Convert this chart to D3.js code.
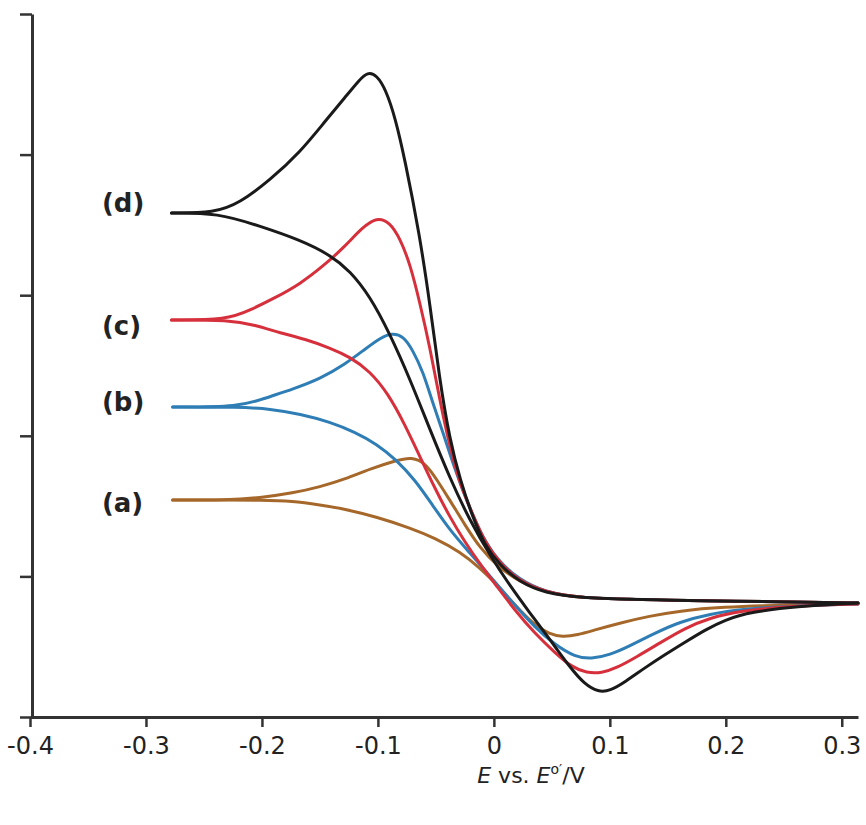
<!DOCTYPE html>
<html>
<head>
<meta charset="utf-8">
<script src="https://cdn.jsdelivr.net/npm/d3@7"></script>
<style>
body { margin: 0; background: #fff; }
</style>
</head>
<body>
<div id="chart"></div>
<script>
// axis ticks: potential (V) and current (arbitrary units, no labels)
var xTicks = [-0.4, -0.3, -0.2, -0.1, 0, 0.1, 0.2, 0.3];
var yTicks = [0, 1, 2, 3, 4, 5];

var curveNames = ["(a)", "(b)", "(c)", "(d)"];
var curveColors = ["#a5682a", "#2f7db5", "#d6303c", "#1a1a1a"];
var labelE = -0.338;
var labelI = [1.51, 2.23, 2.77, 3.645];

// each voltammogram = peak branch + return branch, points are [E, I]
var aPeak = [[-0.277,1.543],[-0.230,1.543],[-0.202,1.558],[-0.173,1.593],[-0.150,1.636],[-0.128,1.693],[-0.107,1.764],
  [-0.083,1.828],[-0.071,1.849],[-0.059,1.807],[-0.049,1.686],[-0.038,1.543],[-0.025,1.366],[-0.012,1.202],[0.003,1.074],
  [0.021,0.967],[0.044,0.889],[0.074,0.846],[0.134,0.832],[0.314,0.811]];
var aReturn = [[-0.277,1.543],[-0.230,1.543],[-0.202,1.543],[-0.173,1.536],[-0.150,1.508],[-0.128,1.479],[-0.101,1.422],
  [-0.072,1.344],[-0.051,1.273],[-0.029,1.174],[-0.012,1.060],[0.003,0.939],[0.018,0.797],[0.035,0.654],[0.048,0.590],
  [0.059,0.569],[0.072,0.583],[0.087,0.619],[0.109,0.669],[0.134,0.718],[0.160,0.754],[0.195,0.782],[0.255,0.797],[0.314,0.804]];

var bPeak = [[-0.277,2.205],[-0.219,2.205],[-0.197,2.269],[-0.173,2.333],[-0.150,2.404],[-0.128,2.511],[-0.111,2.617],
  [-0.098,2.696],[-0.088,2.731],[-0.078,2.710],[-0.070,2.610],[-0.061,2.454],[-0.053,2.240],[-0.044,2.027],[-0.034,1.771],
  [-0.022,1.508],[-0.010,1.280],[0.003,1.117],[0.021,0.982],[0.044,0.889],[0.074,0.846],[0.134,0.832],[0.314,0.811]];
var bReturn = [[-0.277,2.205],[-0.219,2.205],[-0.193,2.191],[-0.167,2.155],[-0.141,2.098],[-0.120,2.027],[-0.101,1.942],
  [-0.084,1.828],[-0.068,1.686],[-0.053,1.508],[-0.038,1.330],[-0.023,1.188],[-0.010,1.067],[0.003,0.939],[0.018,0.797],
  [0.035,0.640],[0.053,0.512],[0.070,0.427],[0.084,0.413],[0.100,0.441],[0.117,0.505],[0.139,0.597],[0.160,0.676],
  [0.186,0.733],[0.216,0.768],[0.255,0.789],[0.314,0.804]];

var cPeak = [[-0.278,2.824],[-0.230,2.824],[-0.210,2.895],[-0.189,2.980],[-0.167,3.080],[-0.146,3.215],[-0.128,3.350],
  [-0.114,3.478],[-0.101,3.556],[-0.090,3.521],[-0.081,3.407],[-0.072,3.215],[-0.064,2.952],[-0.055,2.624],[-0.047,2.269],
  [-0.038,1.920],[-0.029,1.650],[-0.019,1.458],[-0.008,1.245],[0.005,1.095],[0.022,0.967],[0.044,0.889],[0.074,0.846],
  [0.134,0.832],[0.314,0.811]];
var cReturn = [[-0.278,2.824],[-0.228,2.824],[-0.206,2.788],[-0.184,2.731],[-0.163,2.688],[-0.141,2.624],[-0.124,2.560],
  [-0.107,2.461],[-0.091,2.297],[-0.077,2.084],[-0.064,1.856],[-0.051,1.629],[-0.038,1.422],[-0.025,1.245],[-0.012,1.088],
  [0.003,0.925],[0.018,0.761],[0.035,0.597],[0.053,0.455],[0.067,0.356],[0.080,0.313],[0.093,0.313],[0.106,0.349],
  [0.123,0.427],[0.143,0.526],[0.165,0.633],[0.186,0.704],[0.212,0.754],[0.255,0.789],[0.314,0.804]];

var dPeak = [[-0.278,3.585],[-0.241,3.585],[-0.219,3.656],[-0.193,3.819],[-0.167,4.018],[-0.146,4.232],[-0.128,4.410],
  [-0.116,4.531],[-0.109,4.587],[-0.101,4.566],[-0.093,4.459],[-0.085,4.260],[-0.077,3.976],[-0.064,3.428],[-0.055,2.930],
  [-0.047,2.411],[-0.038,1.970],[-0.029,1.686],[-0.019,1.437],[-0.008,1.223],[0.005,1.081],[0.022,0.960],[0.044,0.882],
  [0.074,0.846],[0.134,0.832],[0.314,0.811]];
var dReturn = [[-0.278,3.585],[-0.238,3.585],[-0.202,3.492],[-0.167,3.393],[-0.141,3.286],[-0.124,3.172],[-0.107,2.994],
  [-0.090,2.731],[-0.072,2.397],[-0.055,2.041],[-0.038,1.700],[-0.021,1.401],[-0.003,1.145],[0.014,0.932],[0.031,0.740],
  [0.048,0.555],[0.066,0.349],[0.078,0.235],[0.090,0.178],[0.100,0.185],[0.113,0.249],[0.130,0.349],[0.147,0.441],
  [0.165,0.533],[0.182,0.619],[0.199,0.690],[0.221,0.747],[0.264,0.789],[0.314,0.811]];

var branches = [[aPeak, aReturn], [bPeak, bReturn], [cPeak, cReturn], [dPeak, dReturn]];

var width = 866, height = 825;

var svg = d3.select("#chart").append("svg")
    .attr("width", width)
    .attr("height", height);

var x = d3.scaleLinear().domain([-0.4, 0.314]).range([30, 858]);
var y = d3.scaleLinear().domain([0, 5]).range([717, 14]);

var line = d3.line()
    .x(function(d) { return x(d[0]); })
    .y(function(d) { return y(d[1]); })
    .curve(d3.curveBasis);

// curves, drawn (a) first so black ends up on top
branches.forEach(function(pair, i) {
    pair.forEach(function(pts) {
        svg.append("path")
            .datum(pts)
            .attr("d", line)
            .attr("fill", "none")
            .attr("stroke", curveColors[i])
            .attr("stroke-width", 3)
            .attr("stroke-linejoin", "round")
            .attr("stroke-linecap", "round");
    });
});

// x axis
var xAxis = svg.append("g")
    .attr("transform", "translate(0," + y(0) + ")")
    .call(d3.axisBottom(x)
        .tickValues(xTicks)
        .tickSize(10)
        .tickSizeOuter(0)
        .tickPadding(10)
        .tickFormat(function(d) { return d === 0 ? "0" : d3.format(".1f")(d).replace("\u2212", "-"); }));
xAxis.select(".domain").attr("stroke", "#333").attr("stroke-width", 3);
xAxis.selectAll(".tick line").attr("stroke", "#333").attr("stroke-width", 2.5);
xAxis.selectAll("text")
    .attr("fill", "#222")
    .style("font-family", "'DejaVu Sans', sans-serif")
    .style("font-size", "24px");

// y axis, ticks only
var yAxis = svg.append("g")
    .attr("transform", "translate(" + (x(-0.4) + 2) + ",0)")
    .call(d3.axisLeft(y)
        .tickValues(yTicks)
        .tickSize(12)
        .tickSizeOuter(0)
        .tickFormat(""));
yAxis.select(".domain").attr("stroke", "#333").attr("stroke-width", 3);
yAxis.selectAll(".tick line").attr("stroke", "#333").attr("stroke-width", 2.5);

// axis title
var title = svg.append("text")
    .attr("x", x(0.032))
    .attr("y", y(0) + 66)
    .attr("text-anchor", "middle")
    .attr("fill", "#222")
    .style("font-family", "'DejaVu Sans', sans-serif")
    .style("font-size", "22px");
title.append("tspan").attr("font-style", "italic").text("E");
title.append("tspan").text(" vs. ");
title.append("tspan").attr("font-style", "italic").text("E");
title.append("tspan").attr("font-size", "14px").attr("dy", -9).text("o\u2032");
title.append("tspan").attr("dy", 9).text("/V");

// curve labels
svg.selectAll(".lab")
    .data(curveNames)
    .enter().append("text")
    .attr("class", "lab")
    .attr("x", x(labelE))
    .attr("y", function(d, i) { return y(labelI[i]); })
    .attr("dy", "0.3em")
    .attr("fill", "#222")
    .style("font-family", "'DejaVu Sans', sans-serif")
    .style("font-weight", "bold")
    .style("font-size", "26px")
    .text(function(d) { return d; });
</script>
</body>
</html>
